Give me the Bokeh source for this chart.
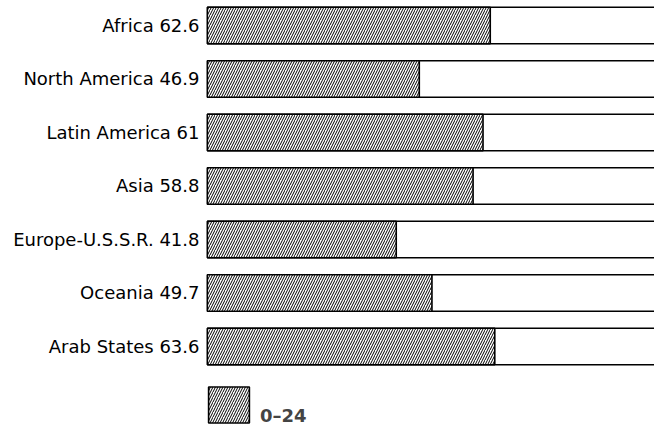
from bokeh.plotting import figure
from bokeh.models import (ColumnDataSource, FixedTicker, Range1d, Legend, LegendItem)
from bokeh.embed import file_html
from bokeh.resources import INLINE

regions = ["Africa", "North America", "Latin America", "Asia",
           "Europe-U.S.S.R.", "Oceania", "Arab States"]
values = [62.6, 46.9, 61, 58.8, 41.8, 49.7, 63.6]
total = [100] * len(regions)
legend_label = "0\u201324"

n = len(regions)
bar_h = 0.68
ypos = [n - 1 - i for i in range(n)]
tick_labels = {ypos[i]: f"{regions[i]} {values[i]:g}" for i in range(n)}

src = ColumnDataSource(dict(
    y=ypos, v=values, t=total,
    ytop=[y + bar_h / 2 for y in ypos],
    ybot=[y - bar_h / 2 for y in ypos],
    zero=[0] * n))

px_per_unit = 4.52
frame_w = 449
x0 = -0.4
p = figure(width=654, height=427, output_backend="svg", toolbar_location=None,
           x_range=Range1d(x0, x0 + frame_w / px_per_unit),
           y_range=Range1d(-1.514, 6.467),
           min_border_left=205, min_border_right=0,
           min_border_top=0, min_border_bottom=0)
p.outline_line_color = None
p.xgrid.visible = False
p.ygrid.visible = False
p.xaxis.visible = False
p.background_fill_color = "white"
p.border_fill_color = "white"

# full (100 %) bar: white body, top and bottom edges only (it runs off the page)
p.hbar(y="y", left=0, right="t", height=bar_h, source=src,
       fill_color="white", line_color=None)
p.segment(x0="zero", y0="ytop", x1="t", y1="ytop", source=src,
          line_color="black", line_width=1.6)
p.segment(x0="zero", y0="ybot", x1="t", y1="ybot", source=src,
          line_color="black", line_width=1.6)
hat = p.hbar(y="y", left=0, right="v", height=bar_h, source=src,
             fill_color="white", line_color="black", line_width=1.6,
             hatch_pattern="/", hatch_color="black", hatch_scale=5,
             hatch_weight=1)

ax = p.yaxis[0]
ax.ticker = FixedTicker(ticks=ypos)
ax.major_label_overrides = tick_labels
ax.axis_line_color = None
ax.major_tick_line_color = None
ax.minor_tick_line_color = None
ax.major_tick_out = 0
ax.major_label_standoff = 6
ax.major_label_text_font = "DejaVu Sans"
ax.major_label_text_font_size = "18px"
ax.major_label_text_color = "black"

legend = Legend(items=[LegendItem(label="\n" + legend_label, renderers=[hat], index=0)],
                location=(-2, 0), glyph_width=51, glyph_height=45,
                label_standoff=6, padding=0, margin=0,
                border_line_color=None, background_fill_alpha=0,
                label_text_font="DejaVu Sans", label_text_font_style="bold",
                label_text_font_size="18px")
p.add_layout(legend)

open("out.html", "w").write(file_html(p, INLINE))
